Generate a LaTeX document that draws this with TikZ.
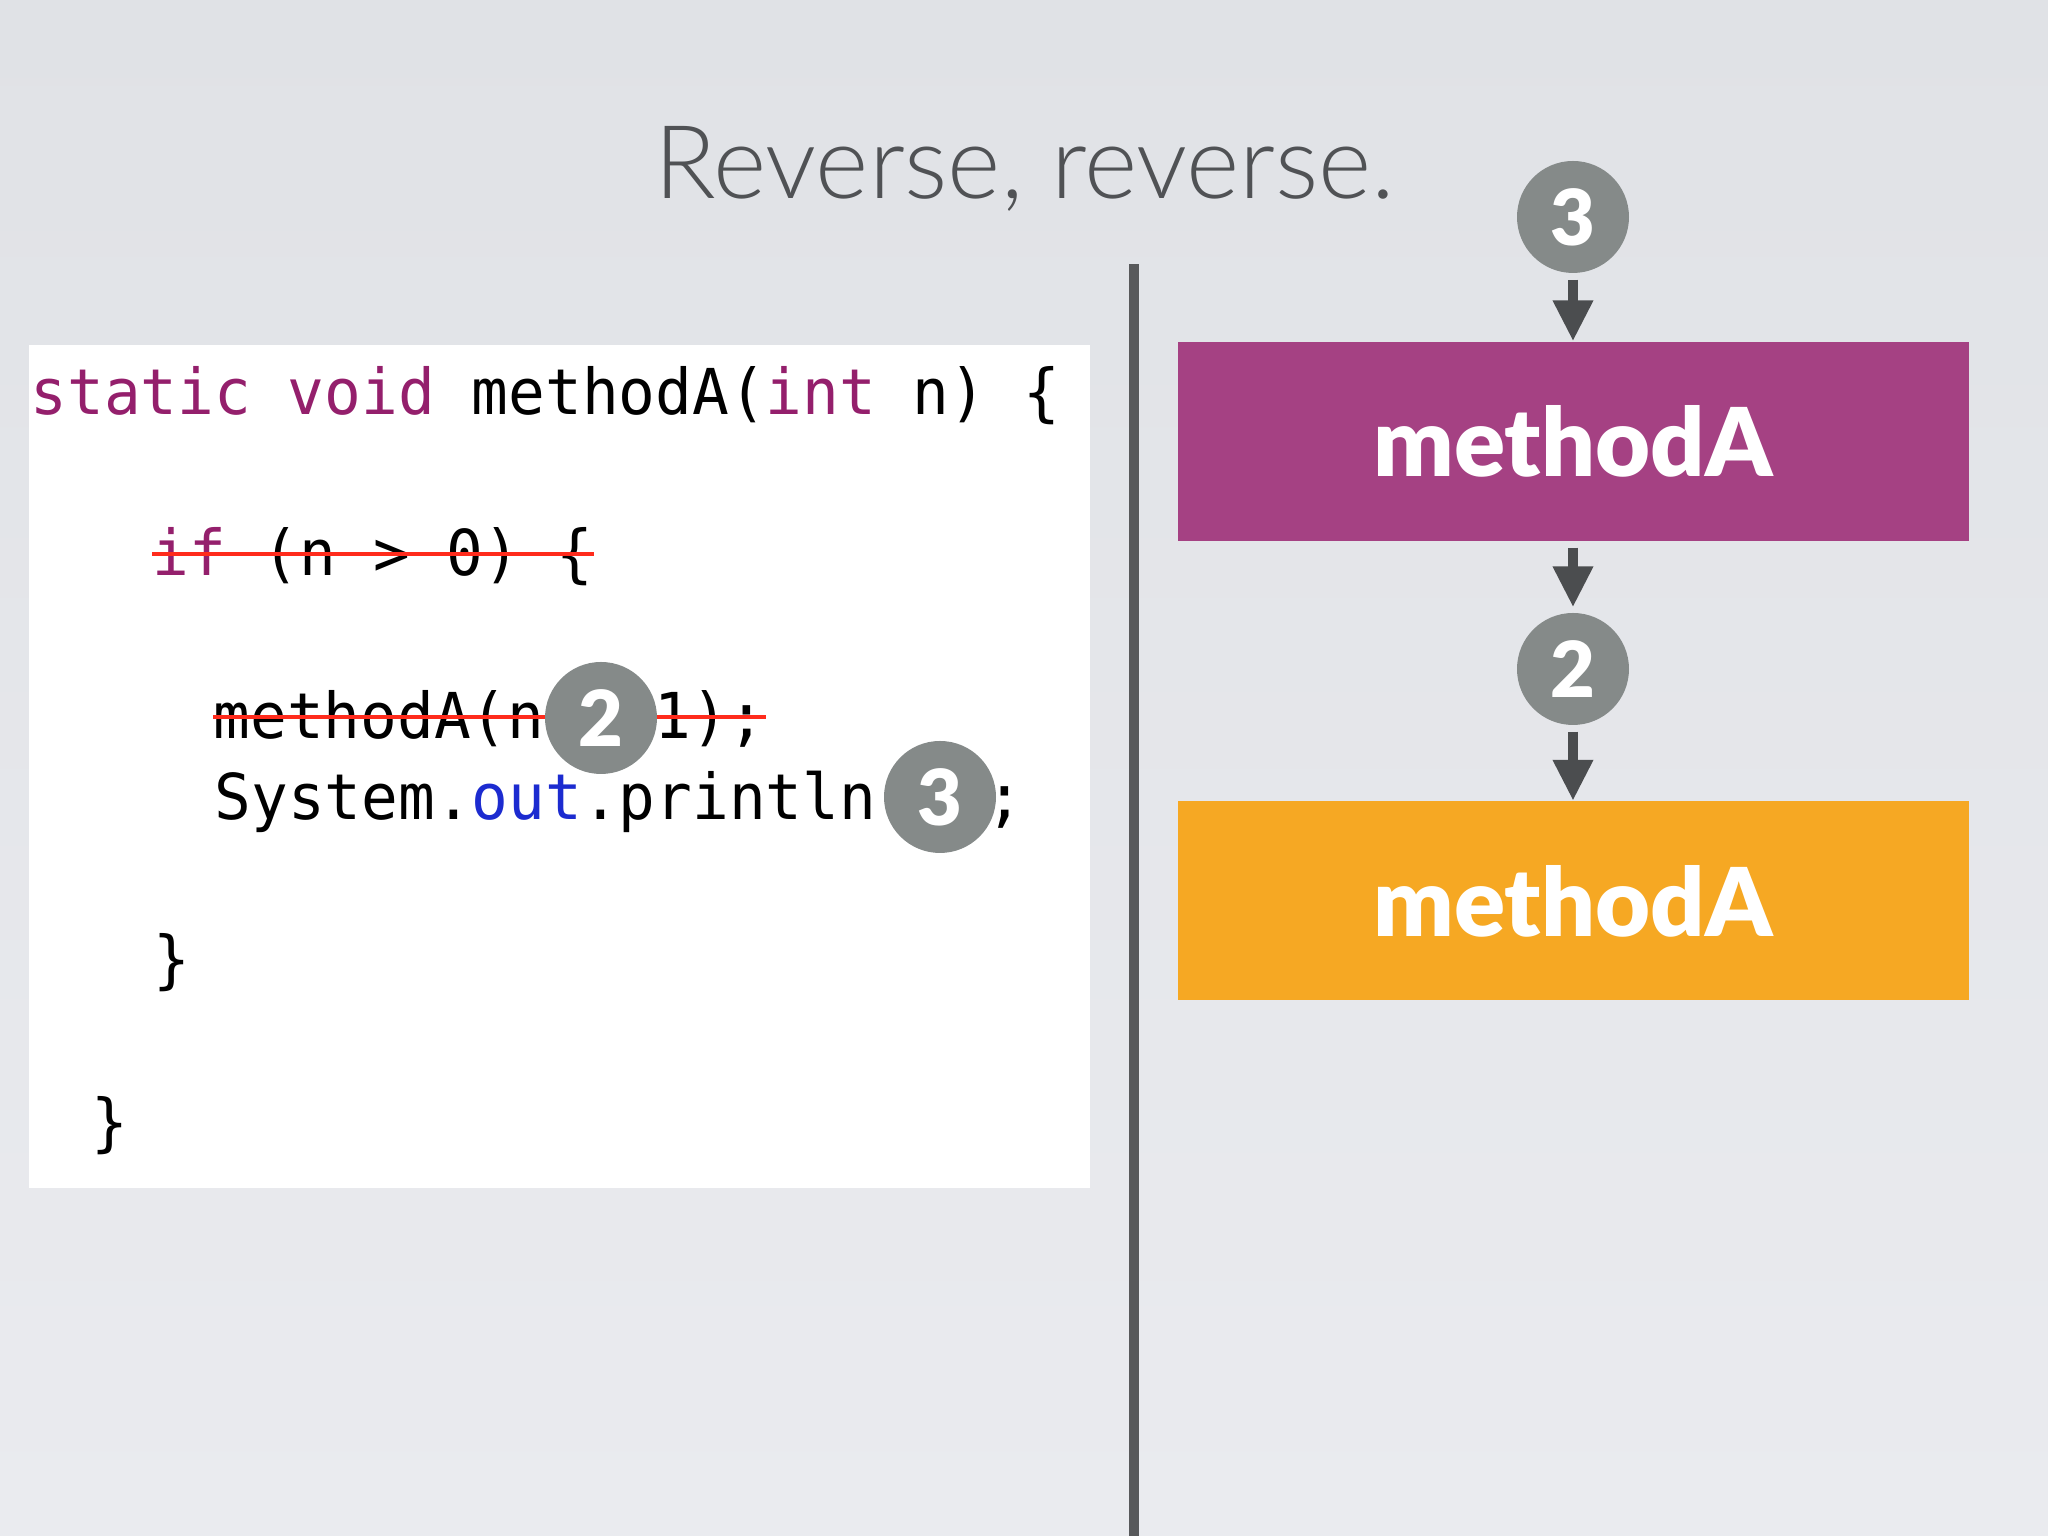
\documentclass[tikz,border=0pt]{standalone}
\usepackage{fontspec}
\setmainfont{Lato}
\newfontfamily\codefont[FakeStretch=0.965]{DejaVu Sans Mono}
\IfFontExistsTF{Lato Light}{\newfontfamily\titlefont{Lato Light}}{\newfontfamily\titlefont{Lato}}
\IfFontExistsTF{Lato Black}{\newfontfamily\heavyfont{Lato Black}}{\newfontfamily\heavyfont[UprightFont=*-Bold]{Lato}}
\usetikzlibrary{arrows.meta}
\definecolor{bgtop}{HTML}{E0E2E6}
\definecolor{bgmid}{HTML}{EDEEF1}
\definecolor{bgbot}{HTML}{EAEBEF}
\definecolor{kw}{HTML}{941F6C}
\definecolor{outblue}{HTML}{1C2BD0}
\definecolor{strikered}{HTML}{FF2B1C}
\definecolor{numgray}{HTML}{858A89}
\definecolor{arrowgray}{HTML}{4B4D4F}
\definecolor{divgray}{HTML}{58595B}
\definecolor{titlegray}{HTML}{505255}
\definecolor{callpurple}{HTML}{A54183}
\definecolor{callorange}{HTML}{F6A823}
\tikzset{
	code/.style={anchor=base west, inner sep=0, font=\codefont\fontsize{18}{20}\selectfont},
	num/.style={circle, fill=numgray, text=white, minimum size=1.12cm, inner sep=0, font=\heavyfont\fontsize{22}{24}\selectfont},
	callbox/.style={minimum width=7.91cm, minimum height=1.99cm, inner sep=0, text=white, font=\heavyfont\fontsize{27}{30}\selectfont},
	flow/.style={draw=arrowgray, line width=1mm, -{Triangle[width=3.8mm,length=4.1mm]}, shorten <=0.06cm},
	strike/.style={draw=strikered, line width=0.4mm},
}

\begin{document}
\begin{tikzpicture}
		%%%%% START %%%%%
		\useasboundingbox (0, 0) rectangle (20.48, 15.36);
		\shade[top color=bgtop, middle color=bgmid, bottom color=bgbot] (0, 0) rectangle (20.48, 15.36);
		
		\node[anchor=base, text=titlegray, font=\titlefont\fontsize{29}{36}\selectfont] (title) at (10.25, 13.37) {Reverse, reverse.};
		
		%%%%% CODE %%%%%
		\fill[white] (0.29, 3.48) rectangle (10.90, 11.91);
		
		\node[code] (sig) at (0.30, 11.21) {\textcolor{kw}{static void} methodA(\textcolor{kw}{int} n) \{};
		\node[code] (ifline) at (1.52, 9.60) {\textcolor{kw}{if} (n > 0) \{};
		\node[code] (recur) at (2.13, 7.97) {methodA(n - 1);};
		\node[code] (print) at (2.14, 7.16) {System.\textcolor{outblue}{out}.println(n);};
		\node[code] (closeif) at (1.53, 5.54) {\}};
		\node[code] (closem) at (0.91, 3.91) {\}};
		
		\draw[strike] ([yshift=0.22cm]ifline.base west) -- ([yshift=0.22cm]ifline.base east);
		\draw[strike] ([yshift=0.22cm]recur.base west) -- ([yshift=0.22cm]recur.base east);
		
		\node[num] (argtwo) at (6.01, 8.18) {2};
		\node[num] (argthree) at (9.40, 7.39) {3};
		
		%%%%% DIVIDER %%%%%
		\draw[divgray, line width=1mm] (11.34, 0) -- (11.34, 12.72);
		
		%%%%% STACK %%%%%
		\node[num] (inthree) at (15.73, 13.19) {3};
		\node[callbox, fill=callpurple] (callA) at (15.73, 10.945) {methodA};
		\node[num] (intwo) at (15.73, 8.67) {2};
		\node[callbox, fill=callorange] (callB) at (15.73, 6.35) {methodA};
		
		\draw[flow] (inthree) -- (callA);
		\draw[flow, shorten >=0.05cm] (callA) -- (intwo);
		\draw[flow] (intwo) -- (callB);
		%%%%% END %%%%%
\end{tikzpicture}
\end{document}
